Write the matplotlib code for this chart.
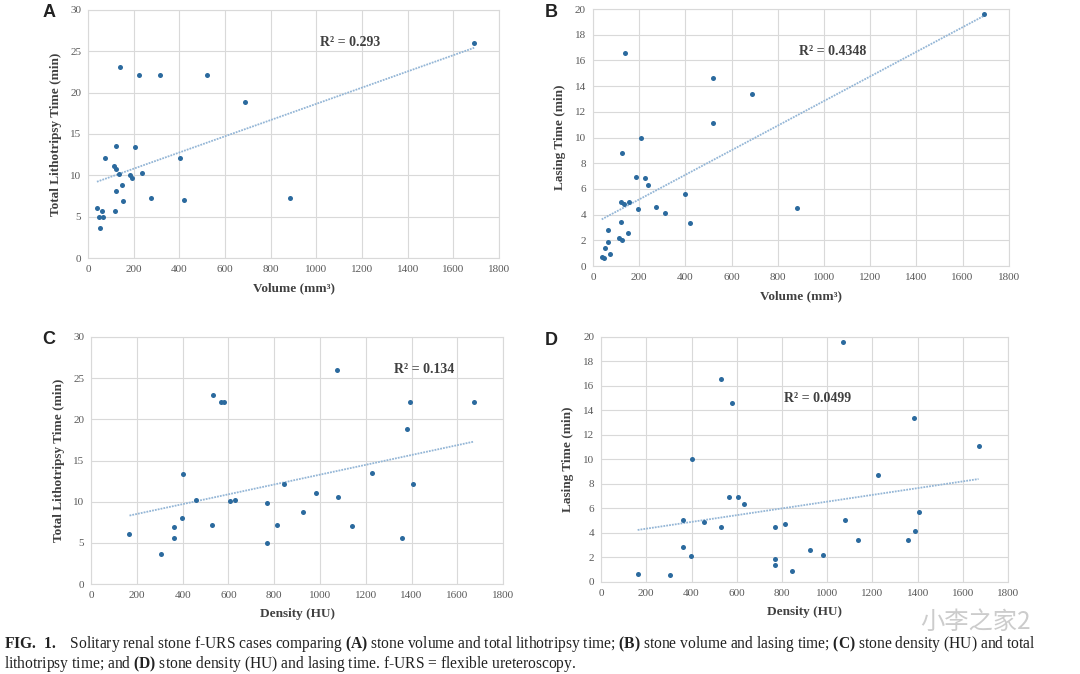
import matplotlib.pyplot as plt
import numpy as np

plt.rcParams['font.family'] = ['Liberation Serif', 'DejaVu Serif']
plt.rcParams['mathtext.fontset'] = 'custom'
plt.rcParams['mathtext.rm'] = 'Liberation Serif'
plt.rcParams['mathtext.bf'] = 'Liberation Serif:bold'

# Panel A: volume vs total lithotripsy time
volA = [39, 50, 64, 63, 51, 76, 112, 121, 124, 134, 124, 120, 139, 150, 153, 185,
        194, 207, 222, 238, 274, 314, 401, 420, 519, 687, 885, 1691]
timeA = [6.0, 5.0, 5.0, 5.7, 3.6, 12.1, 11.1, 10.8, 13.5, 10.2, 8.05, 5.7, 23.1, 8.8,
         6.9, 10.0, 9.7, 13.4, 22.1, 10.3, 7.2, 22.1, 12.1, 7.0, 22.1, 18.9, 7.2, 26.0]

# Panel B: volume vs lasing time
volB = [38, 49, 51, 76, 64, 64, 111, 124, 120, 120, 134, 156, 152, 127, 141, 186,
        193, 208, 224, 237, 273, 313, 400, 421, 520, 520, 689, 885, 1695]
laseB = [0.7, 0.65, 1.4, 0.96, 2.8, 1.9, 2.2, 2.0, 3.4, 5.0, 4.8, 5.0, 2.6, 8.8, 16.6,
         6.9, 4.4, 10.0, 6.85, 6.3, 4.6, 4.1, 5.6, 3.35, 14.6, 11.1, 13.4, 4.5, 19.6]

# Panel C: density vs total lithotripsy time
densC = [168, 305, 363, 363, 398, 402, 458, 528, 532, 567, 580, 606, 631, 767, 767,
         813, 845, 928, 982, 1073, 1077, 1140, 1226, 1360, 1382, 1392, 1407, 1673]
timeC = [6.06, 3.6, 6.95, 5.6, 8.05, 13.4, 10.2, 7.2, 23.0, 22.1, 22.1, 10.1, 10.2,
         9.8, 5.0, 7.2, 12.1, 8.8, 11.0, 26.0, 10.6, 7.1, 13.5, 5.6, 18.8, 22.1, 12.2, 22.1]

# Panel D: density vs lasing time
densD = [162, 303, 361, 361, 396, 401, 457, 529, 529, 566, 581, 605, 630, 767, 767,
         767, 814, 844, 925, 982, 1069, 1077, 1137, 1224, 1357, 1382, 1386, 1404, 1669]
laseD = [0.68, 0.6, 5.06, 2.83, 2.12, 10.0, 4.9, 4.5, 16.6, 6.9, 14.6, 6.9, 6.4, 4.5,
         1.9, 1.4, 4.7, 0.93, 2.6, 2.2, 19.6, 5.06, 3.4, 8.7, 3.45, 13.4, 4.2, 5.7, 11.1]

r2_labels = ["R² = 0.293", "R² = 0.4348", "R² = 0.134", "R² = 0.0499"]

fig = plt.figure(figsize=(10.8, 6.74), dpi=100)

panels = [
    ("A", [0.0815, 0.6172, 0.3806, 0.368], volA, timeA, 30, 5, "Volume (mm³)",
     "Total Lithotripsy Time (min)", r2_labels[0], (1017, 26.1), (0.045, 0.982)),
    ("B", [0.549, 0.6053, 0.385, 0.3813], volB, laseB, 20, 2, "Volume (mm³)",
     "Lasing Time (min)", r2_labels[1], (892, 16.7), (0.510, 0.982)),
    ("C", [0.0843, 0.1335, 0.3815, 0.3665], densC, timeC, 30, 5, "Density (HU)",
     "Total Lithotripsy Time (min)", r2_labels[2], (1322, 26.0), (0.045, 0.497)),
    ("D", [0.5565, 0.1365, 0.377, 0.3635], densD, laseD, 20, 2, "Density (HU)",
     "Lasing Time (min)", r2_labels[3], (810, 15.0), (0.510, 0.495)),
]

for letter, pos, xs, ys, ymax, ystep, xlab, ylab, r2, r2pos, lpos in panels:
    ax = fig.add_axes(pos)
    xs = np.array(xs)
    ys = np.array(ys)
    m, b = np.polyfit(xs, ys, 1)
    xl = np.array([xs.min(), xs.max()])
    ax.plot(xl, m * xl + b, color='#94b6d6', lw=1.3, ls=(0, (1, 0.6)), zorder=2)
    ax.scatter(xs, ys, s=13, color='#2b6a9e', zorder=3, linewidths=0)
    ax.set_xlim(0, 1800)
    ax.set_ylim(0, ymax)
    ax.set_xticks(np.arange(0, 1801, 200))
    ax.set_yticks(np.arange(0, ymax + 1, ystep))
    ax.grid(True, color='#d9d9d9', lw=0.8)
    ax.set_axisbelow(True)
    for s in ax.spines.values():
        s.set_color('#d9d9d9')
        s.set_linewidth(0.8)
    ax.tick_params(length=0, labelsize=8, labelcolor='#595959', pad=5)
    ax.set_xlabel(xlab, fontsize=9.5, fontweight='bold', color='#404040', labelpad=6)
    ax.set_ylabel(ylab, fontsize=9.5, fontweight='bold', color='#404040', labelpad=6)
    ax.text(r2pos[0], r2pos[1], r2, fontsize=10, fontweight='bold', color='#404040',
            va='center', ha='left')
    fig.text(lpos[0], lpos[1], letter, fontsize=13, fontweight='bold',
             family='Liberation Sans', va='center', ha='center', color='#222222')

fig.text(0.852, 0.0775, "小李之家2", fontsize=17.5, color='#cccccc',
         family=['Noto Sans CJK SC', 'DejaVu Sans'], ha='left', va='center')

cap1 = (r"$\mathbf{FIG.\ 1.}$   Solitary renal stone f-URS cases comparing $\mathbf{(A)}$ stone volume "
        r"and total lithotripsy time; $\mathbf{(B)}$ stone volume and lasing time; "
        r"$\mathbf{(C)}$ stone density (HU) and total")
cap2 = (r"lithotripsy time; and $\mathbf{(D)}$ stone density (HU) and lasing time. "
        r"f-URS = flexible ureteroscopy.")
fig.text(0.004, 0.045, cap1, fontsize=11.2, color='#222222', va='center', ha='left')
fig.text(0.004, 0.0145, cap2, fontsize=11.2, color='#222222', va='center', ha='left')

fig.savefig("out.png", dpi=100)
